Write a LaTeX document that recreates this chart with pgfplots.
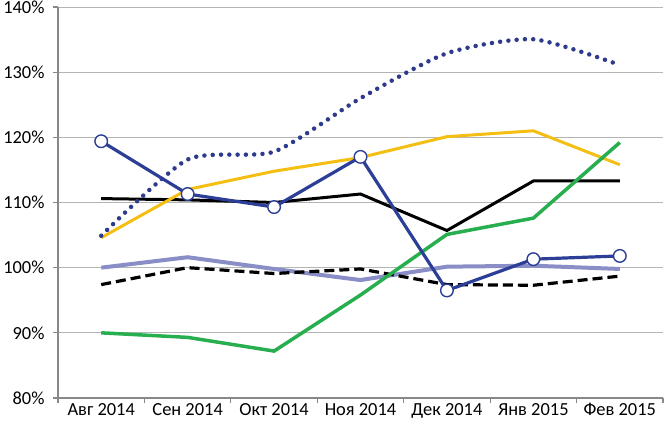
\documentclass[border=0pt]{standalone}
\usepackage{pgfplots}
\pgfplotsset{compat=1.18}
\usepackage{fontspec}
\setmainfont{Carlito}
\definecolor{navy}{HTML}{2E3B8C}
\definecolor{cblue}{HTML}{2C3E96}
\definecolor{gold}{HTML}{F4BF12}
\definecolor{grn}{HTML}{27AE4F}
\definecolor{lav}{HTML}{8A8EC6}
\definecolor{gridc}{HTML}{B4B4B4}
\definecolor{axc}{HTML}{888888}
\begin{document}
\begin{tikzpicture}
\begin{axis}[
  name=ax, at={(0,0)}, anchor=south west,
  scale only axis, width=605bp, height=391bp,
  xmin=0, xmax=7, ymin=80, ymax=140,
  axis x line*=bottom, axis y line*=left,
  axis line style={draw=axc, line width=1.2bp},
  tick align=outside, major tick length=5bp,
  tick style={draw=axc, line width=1.2bp},
  xtick={0,...,7}, xticklabels={},
  extra x ticks={0.5,1.5,...,6.5},
  extra x tick labels={Авг 2014,Сен 2014,Окт 2014,Ноя 2014,Дек 2014,Янв 2015,Фев 2015},
  extra x tick style={major tick length=0pt, grid=none, tick label style={yshift=-2bp}},
  ytick={80,90,...,140},
  yticklabels={80\%,90\%,100\%,110\%,120\%,130\%,140\%},
  yticklabel style={xshift=-5bp},
  ymajorgrids, grid style={draw=gridc, line width=0.9bp},
  tick label style={font=\fontsize{18.5}{21}\selectfont},
  clip=false,
]
\addplot[lav, line width=4bp] coordinates {(0.5,100) (1.5,101.6) (2.5,99.8) (3.5,98.1) (4.5,100.15) (5.5,100.3) (6.5,99.8)};
\addplot[black, line width=3.2bp, dash pattern=on 10bp off 5bp] coordinates {(0.5,97.4) (1.5,100) (2.5,99.1) (3.5,99.8) (4.5,97.4) (5.5,97.3) (6.5,98.7)};
\addplot[black, line width=3bp] coordinates {(0.5,110.6) (1.5,110.4) (2.5,110.0) (3.5,111.3) (4.5,105.7) (5.5,113.3) (6.5,113.3)};
\addplot[gold, line width=3bp] coordinates {(0.5,104.6) (1.5,112.0) (2.5,114.8) (3.5,116.9) (4.5,120.1) (5.5,121.0) (6.5,115.8)};
\addplot[grn, line width=3.5bp] coordinates {(0.5,90.0) (1.5,89.3) (2.5,87.2) (3.5,95.8) (4.5,105.1) (5.5,107.6) (6.5,119.2)};
\addplot[navy, line width=4.5bp, line cap=round, dash pattern=on 0pt off 8.3bp, smooth, tension=0.4] coordinates {(0.5,104.9) (1.5,116.6) (2.5,117.8) (3.5,126.0) (4.5,132.9) (5.5,135.05) (6.5,131.1)};
\addplot[cblue, line width=3.2bp, mark=*, mark size=6.3bp, mark options={fill=white, draw=cblue, line width=1.4bp}] coordinates {(0.5,119.4) (1.5,111.3) (2.5,109.3) (3.5,117.0) (4.5,96.5) (5.5,101.3) (6.5,101.8)};
\end{axis}
\pgfresetboundingbox
\path (ax.south west) ++(-58bp,-34bp) rectangle ([shift={(1bp,7bp)}]ax.north east);
\end{tikzpicture}
\end{document}
